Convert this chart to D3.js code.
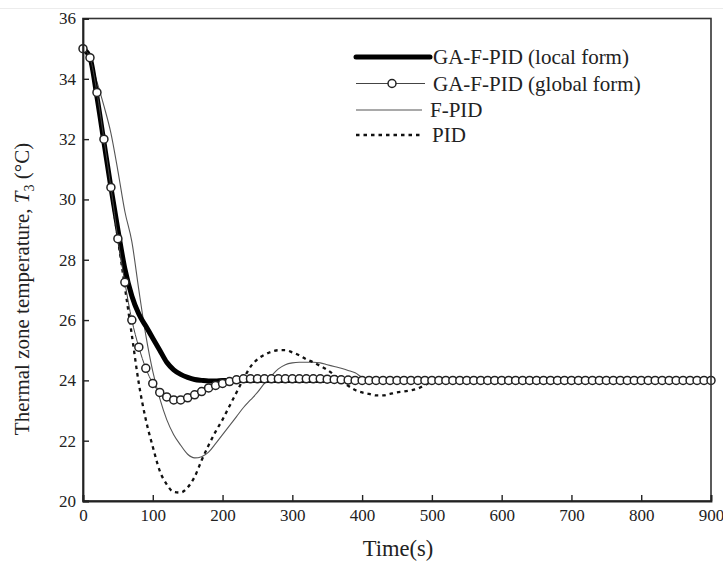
<!DOCTYPE html>
<html>
<head>
<meta charset="utf-8">
<script src="https://cdn.jsdelivr.net/npm/d3@7"></script>
<style>
  html, body { margin: 0; padding: 0; background: #fff; }
  svg { display: block; }
</style>
</head>
<body>
<script>
// Time samples (s) for each response, and the zone temperature T3 (°C)
const timeLocal = [0, 10, 20, 30, 40, 50, 60, 70, 80, 90, 100, 110, 120, 130, 140, 150, 160, 170, 180, 190, 200, 900];
const gaLocal   = [35.0, 34.7, 33.4, 31.9, 30.4, 29.0, 27.7, 26.8, 26.2, 25.8, 25.4, 25.0, 24.6, 24.35, 24.2, 24.1, 24.03, 24.0, 23.98, 23.98, 24.0, 24.0];

const timeGlobal = [0, 10, 20, 30, 40, 50, 60, 70, 80, 90, 100, 110, 120, 130, 140, 150, 160, 170, 180, 190,
                    200, 210, 220, 230, 240, 250, 260, 270, 280, 290, 300, 310, 320, 330, 340, 350, 360, 370, 380, 390,
                    400, 410, 420, 430, 440, 450, 460, 470, 480, 490, 500, 510, 520, 530, 540, 550, 560, 570, 580, 590,
                    600, 610, 620, 630, 640, 650, 660, 670, 680, 690, 700, 710, 720, 730, 740, 750, 760, 770, 780, 790,
                    800, 810, 820, 830, 840, 850, 860, 870, 880, 890, 900];
const gaGlobal   = [35.0, 34.7, 33.55, 32.0, 30.4, 28.7, 27.25, 26.0, 25.1, 24.4, 23.9, 23.6, 23.45, 23.35, 23.35, 23.42, 23.52, 23.63, 23.75, 23.83,
                    23.9, 23.96, 24.02, 24.05, 24.05, 24.05, 24.05, 24.05, 24.05, 24.05, 24.05, 24.05, 24.05, 24.05, 24.05, 24.04, 24.03, 24.02, 24.01, 24.0,
                    24.0, 24.0, 24.0, 24.0, 24.0, 24.0, 24.0, 24.0, 24.0, 24.0, 24.0, 24.0, 24.0, 24.0, 24.0, 24.0, 24.0, 24.0, 24.0, 24.0,
                    24.0, 24.0, 24.0, 24.0, 24.0, 24.0, 24.0, 24.0, 24.0, 24.0, 24.0, 24.0, 24.0, 24.0, 24.0, 24.0, 24.0, 24.0, 24.0, 24.0,
                    24.0, 24.0, 24.0, 24.0, 24.0, 24.0, 24.0, 24.0, 24.0, 24.0, 24.0];

const timeFpid = [0, 10, 20, 30, 40, 50, 60, 70, 80, 90, 100, 110, 120, 130, 140, 150, 160, 170, 180, 190,
                  200, 210, 220, 230, 240, 250, 260, 270, 280, 290, 300, 310, 320, 330, 340, 350, 360, 370, 380, 390,
                  400, 410, 900];
const fpid     = [35.0, 34.65, 33.9, 33.1, 32.2, 30.95, 29.6, 28.6, 27.0, 25.5, 24.3, 23.4, 22.7, 22.2, 21.85, 21.55, 21.43, 21.47, 21.62, 21.9,
                  22.2, 22.5, 22.8, 23.1, 23.35, 23.6, 23.9, 24.15, 24.38, 24.52, 24.58, 24.6, 24.6, 24.6, 24.58, 24.52, 24.46, 24.4, 24.33, 24.25,
                  24.1, 24.0, 24.0];

const timePid = [0, 10, 20, 30, 40, 50, 60, 70, 80, 90, 100, 110, 120, 130, 140, 150, 160, 170, 180, 190,
                 200, 210, 220, 230, 240, 250, 260, 270, 280, 290, 300, 310, 320, 330, 340, 350, 360, 370, 380, 390,
                 400, 410, 420, 430, 440, 450, 460, 470, 480, 490, 500, 510, 900];
const pid     = [35.0, 34.6, 33.3, 31.8, 30.3, 28.7, 27.1, 25.5, 23.9, 22.7, 21.8, 21.0, 20.55, 20.3, 20.28, 20.45, 20.8, 21.35, 21.85, 22.3,
                 22.7, 23.15, 23.6, 24.05, 24.45, 24.7, 24.85, 24.95, 25.0, 25.0, 24.93, 24.83, 24.7, 24.6, 24.48, 24.35, 24.18, 23.98, 23.82, 23.68,
                 23.6, 23.55, 23.5, 23.5, 23.55, 23.6, 23.63, 23.67, 23.73, 23.85, 23.96, 24.0, 24.0];

const xTicks = [0, 100, 200, 300, 400, 500, 600, 700, 800, 900];
const yTicks = [20, 22, 24, 26, 28, 30, 32, 34, 36];
const legendLabels = ["GA-F-PID (local form)", "GA-F-PID (global form)", "F-PID", "PID"];

const FONT = '"Liberation Serif"';
const W = 723, H = 562;
const margin = { top: 18.5, right: 12, bottom: 61, left: 83 };

const svg = d3.select("body").append("svg")
  .attr("width", W).attr("height", H);

// serif text helper: family set as an inline style on each text node
const serif = (sel, size) => sel.style("font-family", FONT).style("font-size", size + "px").style("fill", "#222");

// faint page rule along the top
svg.append("line")
  .attr("x1", 0).attr("x2", W).attr("y1", 8.5).attr("y2", 8.5)
  .attr("stroke", "#ececec").attr("stroke-width", 1);

const x = d3.scaleLinear().domain([0, 900]).range([margin.left, W - margin.right]);
const y = d3.scaleLinear().domain([20, 36]).range([H - margin.bottom, margin.top]);

const zip = (ts, vs) => ts.map((t, i) => [t, vs[i]]);
const line = d3.line().x(d => x(d[0])).y(d => y(d[1])).curve(d3.curveMonotoneX);

const plot = svg.append("g");

// F-PID: thin grey line
plot.append("path")
  .attr("d", line(zip(timeFpid, fpid)))
  .attr("fill", "none").attr("stroke", "#555").attr("stroke-width", 1.1);

// PID: short dashes
plot.append("path")
  .attr("d", line(zip(timePid, pid)))
  .attr("fill", "none").attr("stroke", "#111").attr("stroke-width", 2.3)
  .attr("stroke-dasharray", "3.5,4");

// GA-F-PID local form: heavy black line
plot.append("path")
  .attr("d", line(zip(timeLocal, gaLocal)))
  .attr("fill", "none").attr("stroke", "#000").attr("stroke-width", 5)
  .attr("stroke-linejoin", "round").attr("stroke-linecap", "round");

// GA-F-PID global form: thin line with hollow circle markers
const globalPts = zip(timeGlobal, gaGlobal);
plot.append("path")
  .attr("d", line(globalPts))
  .attr("fill", "none").attr("stroke", "#444").attr("stroke-width", 1);
plot.append("g").selectAll("circle")
  .data(globalPts).join("circle")
  .attr("cx", d => x(d[0])).attr("cy", d => y(d[1]))
  .attr("r", 4)
  .attr("fill", "#fff").attr("stroke", "#222").attr("stroke-width", 1.5);

// frame
svg.append("rect")
  .attr("x", margin.left).attr("y", margin.top)
  .attr("width", W - margin.left - margin.right)
  .attr("height", H - margin.top - margin.bottom)
  .attr("fill", "none").attr("stroke", "#333").attr("stroke-width", 1.6);

// axes with inward ticks
const xAxis = svg.append("g")
  .attr("transform", `translate(0,${H - margin.bottom})`)
  .call(d3.axisBottom(x).tickValues(xTicks).tickFormat(d3.format("d")).tickSize(-6).tickPadding(8));
const yAxis = svg.append("g")
  .attr("transform", `translate(${margin.left},0)`)
  .call(d3.axisLeft(y).tickValues(yTicks).tickFormat(d3.format("d")).tickSize(-6).tickPadding(7));

[xAxis, yAxis].forEach(g => {
  g.attr("font-family", null).attr("font-size", null);
  g.select(".domain").attr("stroke", "#222").attr("stroke-width", 1.8);
  g.selectAll(".tick line").attr("stroke", "#222").attr("stroke-width", 1.4);
  serif(g.selectAll(".tick text"), 17);
});

// axis titles
serif(svg.append("text"), 22.5)
  .attr("x", 398).attr("y", 556)
  .attr("text-anchor", "middle")
  .text("Time(s)");

const yTitle = serif(svg.append("text"), 21)
  .attr("transform", "translate(29,289) rotate(-90)")
  .attr("text-anchor", "middle");
yTitle.append("tspan").text("Thermal zone temperature, ");
yTitle.append("tspan").style("font-style", "italic").text("T");
yTitle.append("tspan").attr("dy", 5).style("font-size", "14px").text("3");
yTitle.append("tspan").attr("dy", -5).text(" (°C)");

// legend
const legend = svg.append("g");
const rowY = [57, 83.5, 110, 135];
const lx0 = 356;

legend.append("line").attr("x1", lx0).attr("x2", 430).attr("y1", rowY[0]).attr("y2", rowY[0])
  .attr("stroke", "#000").attr("stroke-width", 5).attr("stroke-linecap", "round");
legend.append("line").attr("x1", lx0).attr("x2", 425).attr("y1", rowY[1]).attr("y2", rowY[1])
  .attr("stroke", "#444").attr("stroke-width", 1);
legend.append("circle").attr("cx", 392).attr("cy", rowY[1]).attr("r", 4)
  .attr("fill", "#fff").attr("stroke", "#222").attr("stroke-width", 1.5);
legend.append("line").attr("x1", lx0).attr("x2", 422).attr("y1", rowY[2]).attr("y2", rowY[2])
  .attr("stroke", "#555").attr("stroke-width", 1.1);
legend.append("line").attr("x1", lx0).attr("x2", 420).attr("y1", rowY[3]).attr("y2", rowY[3])
  .attr("stroke", "#111").attr("stroke-width", 2.3).attr("stroke-dasharray", "3.5,4");

serif(legend.selectAll("text.lab")
  .data(legendLabels).join("text"), 21)
  .attr("class", "lab")
  .attr("x", (d, i) => [433, 433, 430, 432][i])
  .attr("y", (d, i) => rowY[i])
  .attr("dy", "0.35em")
  .text(d => d);
</script>
</body>
</html>
